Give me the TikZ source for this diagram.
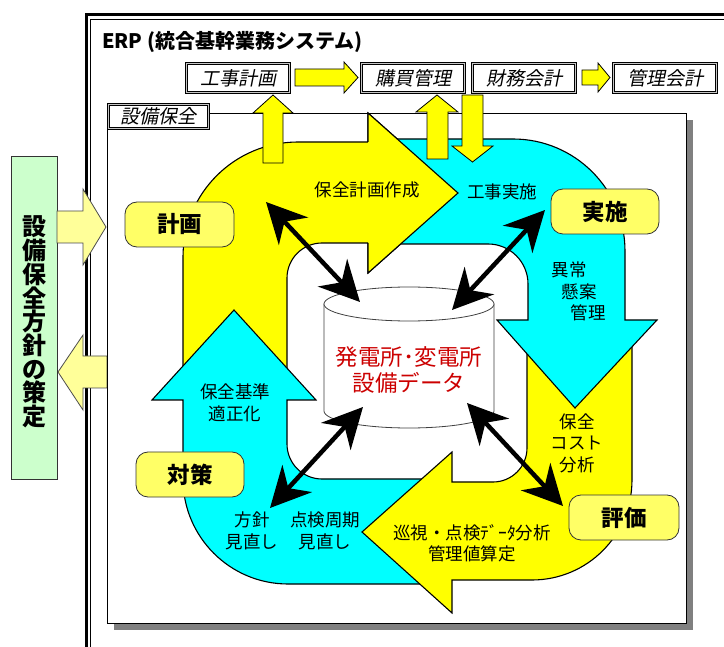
\documentclass[tikz,border=0pt]{standalone}
\usepackage{fontspec}
\setmainfont{Noto Sans CJK JP}
\newfontfamily\jpsl{Noto Sans CJK JP}[FakeSlant=0.2]
\usetikzlibrary{arrows.meta}
\definecolor{yel}{HTML}{FFFF00}
\definecolor{cya}{HTML}{00FFFF}
\definecolor{lab}{HTML}{FFFF66}
\definecolor{pale}{HTML}{FFFF99}
\definecolor{grn}{HTML}{CCFFCC}
\definecolor{dbred}{HTML}{CC0000}
\definecolor{shad}{HTML}{808080}
\begin{document}
\begin{tikzpicture}[x=1pt,y=-1pt,
  band/.style={draw=black,line width=1.1pt,line join=miter},
  topbox/.style={draw=black,double=gray!45,double distance=1.6pt,line width=0.7pt,fill=white,
     minimum width=103pt,minimum height=29pt,inner sep=0pt,font=\jpsl\fontsize{19}{20}\selectfont},
  blockarrow/.style={draw=black,line width=0.8pt,fill=yel},
  sidearrow/.style={draw=black!70,line width=0.8pt,fill=pale},
  labelbox/.style={draw=black!80,line width=0.8pt,fill=lab,rounded corners=12pt,
     minimum width=108pt,minimum height=45pt,inner sep=0pt,font=\bfseries\fontsize{22.5}{26}\selectfont},
  txt/.style={font=\fontsize{17.5}{21.5}\selectfont,align=center,inner sep=0pt},
  dbl/.style={line width=4.5pt,{Stealth[length=40pt,width=40pt,inset=13pt]}-{Stealth[length=40pt,width=40pt,inset=13pt]}}
]
\useasboundingbox (0,0) rectangle (724,647);
\clip (0,0) rectangle (724,647);
\fill[white] (0,0) rectangle (724,647);

% ERP frame
\draw[line width=3pt] (86.5,14.5) rectangle (780,700);
\draw[line width=1pt] (90,20) rectangle (775,700);
\node[anchor=west,font=\bfseries\fontsize{20}{21}\selectfont,inner sep=0pt] (erp) at (102,42) {ERP (統合基幹業務システム)};

% policy box and side arrows
\node[draw=black!80,line width=0.8pt,fill=grn,minimum width=46pt,minimum height=323pt,inner sep=0pt] (policy) at (34,317.5) {};
\node[font=\bfseries\fontsize{24}{23.7}\selectfont,align=center,inner sep=0pt] (policytext) at (34,322) {設\\備\\保\\全\\方\\針\\の\\策\\定};
\draw[sidearrow] (57,211) -- (83,211) -- (83,189) -- (106,227) -- (83,265) -- (83,243) -- (57,243) -- cycle;
\draw[sidearrow] (107,356) -- (83,356) -- (83,335) -- (58,372) -- (83,410) -- (83,388) -- (107,388) -- cycle;

% maintenance frame
\fill[shad] (114,120) rectangle (693,630);
\draw[line width=0.8pt,fill=white] (107,113) rectangle (686,623);
\node[topbox,minimum width=100pt,minimum height=24pt] (hozen) at (158.5,116.5) {設備保全};

% ERP modules
\node[topbox] (koji) at (238,78) {工事計画};
\node[topbox] (kobai) at (413,78) {購買管理};
\node[topbox] (zaimu) at (524,78) {財務会計};
\node[topbox] (kanri) at (665,78) {管理会計};
\draw[blockarrow] (295,69) -- (344,69) -- (344,62) -- (358,77.5) -- (344,93) -- (344,86) -- (295,86) -- cycle;
\draw[blockarrow] (582,70) -- (598,70) -- (598,63) -- (610,77.5) -- (598,92) -- (598,85) -- (582,85) -- cycle;

% main loop
\draw[band,fill=yel] (183,400) -- (183,257) arc[start angle=180,end angle=270,radius=115] -- (368,142) -- (368,113) -- (458,193) -- (368,273) -- (368,243) -- (322,243) arc[start angle=270,end angle=180,radius=35] -- (287,400) -- cycle;
\draw[band,fill=cya] (440,479) -- (322,479) arc[start angle=90,end angle=180,radius=35] -- (287,400) -- (316,400) -- (234,310) -- (152,400) -- (183,400) -- (183,479) arc[start angle=180,end angle=90,radius=105] -- (440,584) -- cycle;
\draw[band,fill=yel] (527,335) -- (632,335) -- (632,480) arc[start angle=0,end angle=90,radius=100] -- (452,580) -- (452,613) -- (362,532) -- (452,452) -- (452,482) -- (493,482) arc[start angle=90,end angle=0,radius=34] -- cycle;
\draw[band,fill=cya] (380,139) -- (513,139) arc[start angle=270,end angle=360,radius=112] -- (625,320) -- (657,320) -- (575,408) -- (497,320) -- (528,320) -- (528,284) arc[start angle=0,end angle=-90,radius=40] -- (380,244) -- cycle;
\fill[yel] (368,113) -- (458,193) -- (368,273) -- cycle;
\draw[band] (368,142) -- (368,113) -- (458,193) -- (368,273) -- (368,243);

% links to ERP
\draw[blockarrow] (263,163) -- (263,113) -- (253,113) -- (273,95) -- (293,113) -- (283,113) -- (283,163) -- cycle;
\draw[blockarrow] (427,159) -- (427,112) -- (416,112) -- (437,95) -- (458,112) -- (448,112) -- (448,159) -- cycle;
\draw[blockarrow] (462,95) -- (462,146) -- (452,146) -- (472.5,162) -- (493,146) -- (483,146) -- (483,95) -- cycle;

% database cylinder
\draw[draw=black!75,line width=0.8pt,fill=white] (324,304) -- (324,411) arc[start angle=180,end angle=0,x radius=85,y radius=17] -- (494,304) -- cycle;
\draw[draw=black!75,line width=0.8pt,fill=white] (409,304) ellipse [x radius=85,y radius=17];
\node[font=\fontsize{22.5}{26}\selectfont,text=dbred,align=center,inner sep=0pt] (db) at (409,370) {発電所･変電所\\設備データ};

% phase labels
\node[labelbox,minimum width=109pt] (keikaku) at (179.5,224.5) {計画};
\node[labelbox] (jisshi) at (605,211.5) {実施};
\node[labelbox] (taisaku) at (190,474.5) {対策};
\node[labelbox,minimum width=110pt] (hyoka) at (624,517.5) {評価};

% data links
\coordinate (a1) at (266,202); \coordinate (b1) at (360,302);
\coordinate (a2) at (545,210); \coordinate (b2) at (452,310);
\coordinate (a3) at (270,508); \coordinate (b3) at (363,407);
\coordinate (a4) at (563,506); \coordinate (b4) at (467,403);
\draw[dbl] (a1) -- (b1);
\draw[dbl] (a2) -- (b2);
\draw[dbl] (a3) -- (b3);
\draw[dbl] (a4) -- (b4);

% texts
\node[txt] (t1) at (367,190) {保全計画作成};
\node[txt] (t2) at (502,192) {工事実施};
\node[txt] (t3a) at (569,270) {異常};
\node[txt] (t3b) at (579,292) {懸案};
\node[txt] (t3c) at (588,313) {管理};
\node[txt] (t4) at (577,443) {保全\\コスト\\分析};
\node[txt] (t5) at (472,543.5) {巡視・点検ﾃﾞｰﾀ分析\\管理値算定};
\node[txt] (t6) at (252,531) {方針\\見直し};
\node[txt] (t7) at (325,531) {点検周期\\見直し};
\node[txt] (t8) at (235,403) {保全基準\\適正化};
\end{tikzpicture}
\end{document}
